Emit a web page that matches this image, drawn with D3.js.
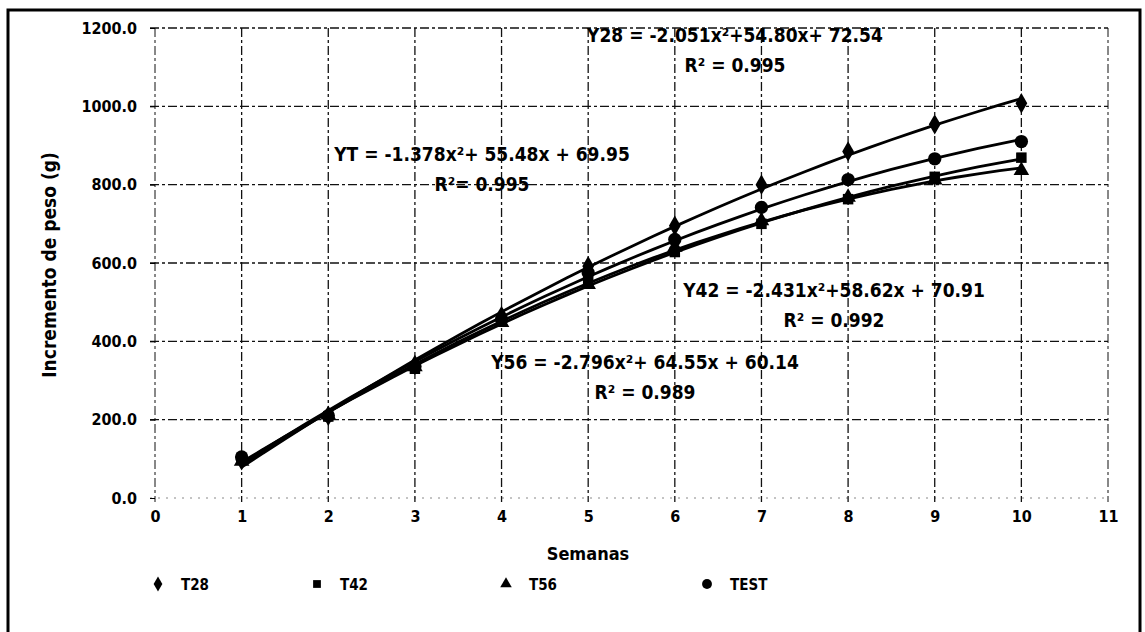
<!DOCTYPE html>
<html>
<head>
<meta charset="utf-8">
<script src="https://cdn.jsdelivr.net/npm/d3@7"></script>
<style>
  body { margin: 0; background: #fff; }
  svg text { font-family: "DejaVu Sans Condensed", "DejaVu Sans", sans-serif; font-stretch: condensed; font-weight: bold; fill: #000; }
</style>
</head>
<body>
<svg id="chart" width="1145" height="632"></svg>
<script>
const weeks = [1, 2, 3, 4, 5, 6, 7, 8, 9, 10];
const t28 = [96, 210, 340, 465, 592, 695, 800, 885, 954, 1008];
const t42 = [100, 208, 330, 450, 552, 628, 700, 763, 820, 869];
const t56 = [94, 212, 335, 448, 545, 640, 708, 768, 812, 836];
const test = [105, 210, 336, 456, 575, 660, 742, 813, 866, 910];
const seriesNames = ["T28", "T42", "T56", "TEST"];
const xTicks = [0, 1, 2, 3, 4, 5, 6, 7, 8, 9, 10, 11];
const yTicks = [0, 200, 400, 600, 800, 1000, 1200];
const equations = [
  ["Y28 = -2.051x\u00b2+54.80x+ 72.54", "R\u00b2 = 0.995"],
  ["YT = -1.378x\u00b2+ 55.48x + 69.95", "R\u00b2= 0.995"],
  ["Y42 = -2.431x\u00b2+58.62x + 70.91", "R\u00b2 = 0.992"],
  ["Y56 = -2.796x\u00b2+ 64.55x + 60.14", "R\u00b2 = 0.989"]
];

const svg = d3.select("#chart");
const x = d3.scaleLinear().domain([0, 11]).range([155, 1108]);
const y = d3.scaleLinear().domain([0, 1200]).range([498, 28]);

// outer frame
svg.append("rect")
  .attr("x", 8).attr("y", 10).attr("width", 1132).attr("height", 640)
  .attr("fill", "none").attr("stroke", "#000").attr("stroke-width", 3);

// grid
const grid = svg.append("g");
grid.selectAll(".hg").data(yTicks).enter().append("line")
  .attr("x1", x(0) - 5).attr("x2", x(11))
  .attr("y1", d => y(d)).attr("y2", d => y(d))
  .attr("stroke", d => d === 0 ? "#888" : "#111")
  .attr("stroke-width", d => d === 0 ? 1 : 1.3)
  .attr("stroke-dasharray", d => d === 0 ? "2,6" : "9,3,3,3");
grid.selectAll(".vg").data(xTicks).enter().append("line")
  .attr("x1", d => x(d)).attr("x2", d => x(d))
  .attr("y1", y(1200)).attr("y2", y(0) + 4)
  .attr("stroke", "#111")
  .attr("stroke-width", d => (d === 0 || d === 11) ? 1 : 1.3)
  .attr("stroke-dasharray", "9,3,3,3");

// axes
const yAxis = svg.append("g")
  .attr("transform", `translate(${x(0)},0)`)
  .call(d3.axisLeft(y).tickValues(yTicks).tickFormat(d3.format(".1f")).tickSize(5).tickPadding(13));
yAxis.select(".domain").remove();
yAxis.selectAll("text").style("font-size", "16px");

const xAxis = svg.append("g")
  .attr("transform", `translate(0,${y(0)})`)
  .call(d3.axisBottom(x).tickValues(xTicks).tickSize(0).tickPadding(13));
xAxis.select(".domain").remove();
xAxis.selectAll("text").style("font-size", "16px");

svg.append("text")
  .attr("x", 588).attr("y", 560).attr("text-anchor", "middle")
  .style("font-size", "18px").text("Semanas");

svg.append("text")
  .attr("transform", "translate(56,265) rotate(-90)")
  .attr("text-anchor", "middle")
  .style("font-size", "19px").text("Incremento de peso  (g)");

// quadratic least-squares trendline
function quadFit(xs, ys) {
  let s = [0, 0, 0, 0, 0], t = [0, 0, 0];
  xs.forEach((xi, i) => {
    for (let k = 0; k <= 4; k++) s[k] += Math.pow(xi, k);
    for (let k = 0; k <= 2; k++) t[k] += Math.pow(xi, k) * ys[i];
  });
  const m = [[s[0], s[1], s[2], t[0]], [s[1], s[2], s[3], t[1]], [s[2], s[3], s[4], t[2]]];
  for (let i = 0; i < 3; i++) {
    for (let j = i + 1; j < 3; j++) {
      const f = m[j][i] / m[i][i];
      for (let k = i; k < 4; k++) m[j][k] -= f * m[i][k];
    }
  }
  const c = [0, 0, 0];
  for (let i = 2; i >= 0; i--) {
    let v = m[i][3];
    for (let k = i + 1; k < 3; k++) v -= m[i][k] * c[k];
    c[i] = v / m[i][i];
  }
  return xv => c[0] + c[1] * xv + c[2] * xv * xv;
}

const allSeries = [t28, t42, t56, test];
const symbols = [d3.symbolDiamond, d3.symbolSquare, d3.symbolTriangle, d3.symbolCircle];
const symSizes = [120, 110, 105, 140];
const line = d3.line().x(d => x(d[0])).y(d => y(d[1])).curve(d3.curveBasis);
const xs = d3.range(1, 10.001, 0.25);

allSeries.forEach((vals, i) => {
  const f = quadFit(weeks, vals);
  svg.append("path")
    .attr("d", line(xs.map(v => [v, f(v)])))
    .attr("fill", "none").attr("stroke", "#000").attr("stroke-width", 2.8);
  svg.append("g").selectAll("path").data(vals).enter().append("path")
    .attr("transform", (d, j) => `translate(${x(weeks[j])},${y(d)})`)
    .attr("d", d3.symbol().type(symbols[i]).size(symSizes[i]))
    .attr("fill", "#000");
});

// equation labels
const eqPos = [[735, 42], [482, 161], [834, 297], [645, 369]];
equations.forEach((eq, i) => {
  const g = svg.append("g").attr("transform", `translate(${eqPos[i][0]},${eqPos[i][1]})`);
  g.append("text").attr("text-anchor", "middle").style("font-size", "19px").text(eq[0]);
  g.append("text").attr("y", 30).attr("text-anchor", "middle").style("font-size", "19px").text(eq[1]);
});

// legend
const legendX = [158, 317, 506, 707];
const lg = svg.append("g").attr("transform", "translate(0,584)");
seriesNames.forEach((name, i) => {
  lg.append("path")
    .attr("transform", `translate(${legendX[i]},0)`)
    .attr("d", d3.symbol().type(symbols[i]).size(symSizes[i] * 0.55))
    .attr("fill", "#000");
  lg.append("text")
    .attr("x", legendX[i] + 23).attr("y", 6)
    .style("font-size", "15px").text(name);
});
</script>
</body>
</html>
